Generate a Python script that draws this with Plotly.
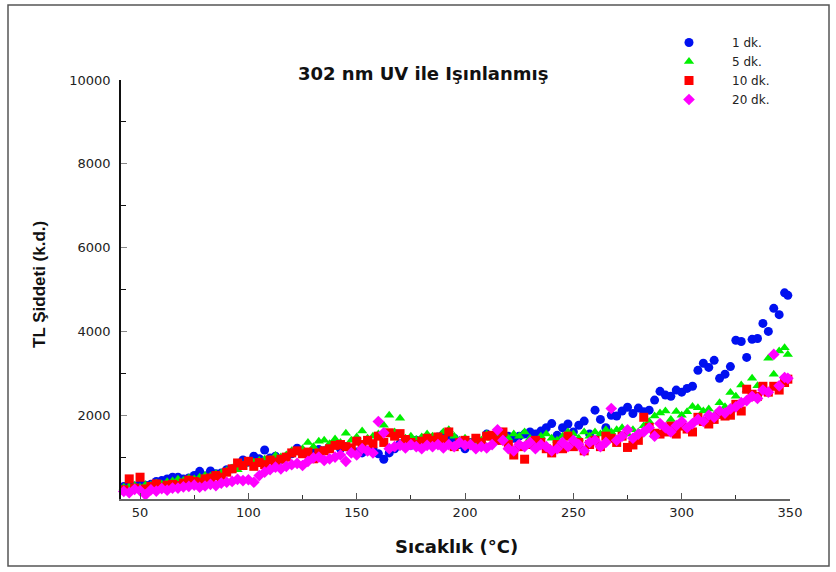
import plotly.graph_objects as go

TEMP = [42.5, 45, 47.5, 50, 52.5, 55, 57.5, 60, 62.5, 65,
        67.5, 70, 72.5, 75, 77.5, 80, 82.5, 85, 87.5, 90,
        92.5, 95, 97.5, 100, 102.5, 105, 107.5, 110, 112.5, 115,
        117.5, 120, 122.5, 125, 127.5, 130, 132.5, 135, 137.5, 140,
        142.5, 145, 147.5, 150, 152.5, 155, 157.5, 160, 162.5, 165,
        167.5, 170, 172.5, 175, 177.5, 180, 182.5, 185, 187.5, 190,
        192.5, 195, 197.5, 200, 202.5, 205, 207.5, 210, 212.5, 215,
        217.5, 220, 222.5, 225, 227.5, 230, 232.5, 235, 237.5, 240,
        242.5, 245, 247.5, 250, 252.5, 255, 257.5, 260, 262.5, 265,
        267.5, 270, 272.5, 275, 277.5, 280, 282.5, 285, 287.5, 290,
        292.5, 295, 297.5, 300, 302.5, 305, 307.5, 310, 312.5, 315,
        317.5, 320, 322.5, 325, 327.5, 330, 332.5, 335, 337.5, 340,
        342.5, 345, 347.5, 349]

DK1 = [300, 340, 310, 360, 330, 350, 420, 440, 480, 520,
       520, 480, 500, 560, 660, 550, 670, 600, 620, 700,
       720, 760, 930, 880, 1020, 960, 1170, 980, 1020, 950,
       1000, 1080, 1210, 1120, 1050, 1100, 1180, 1150, 1250, 1300,
       1200, 1250, 1180, 1120, 1100, 1150, 1200, 1080, 950, 1100,
       1200, 1320, 1300, 1280, 1400, 1350, 1450, 1400, 1480, 1550,
       1400, 1450, 1300, 1200, 1350, 1400, 1300, 1550, 1500, 1400,
       1550, 1500, 1450, 1500, 1550, 1600, 1550, 1620, 1700, 1800,
       1520, 1700, 1790, 1600, 1760, 1860, 1550, 2120, 1900, 1700,
       2000, 1980, 2100, 2190, 2040, 2170, 2080, 2120, 2360, 2570,
       2480, 2450, 2600, 2550, 2640, 2690, 3070, 3240, 3140, 3310,
       2880, 2980, 3160, 3790, 3760, 3380, 3810, 3830, 4190, 4000,
       4550, 4400, 4920, 4860]

DK5 = [280, 300, 320, 280, 340, 330, 380, 360, 410, 430,
       470, 440, 500, 480, 520, 560, 540, 600, 620, 680,
       740, 700, 820, 870, 880, 920, 950, 940, 1040, 1000,
       1050, 1150, 1100, 1200, 1350, 1250, 1380, 1400, 1320, 1430,
       1350, 1570, 1400, 1480, 1620, 1450, 1500, 1550, 1760, 2000,
       1600, 1930, 1450, 1500, 1420, 1480, 1550, 1500, 1450, 1600,
       1650, 1500, 1400, 1450, 1350, 1300, 1400, 1550, 1450, 1500,
       1600, 1450, 1550, 1500, 1600, 1450, 1400, 1500, 1550, 1450,
       1400, 1500, 1600, 1550, 1450, 1600, 1500, 1600, 1550, 1650,
       1600, 1650, 1700, 1550, 1650, 1600, 1750, 1850, 1980, 2050,
       2100, 1900, 2090, 2000, 2080, 2210, 2180, 2100, 2150, 2000,
       2300, 2200, 2540, 2450, 2720, 2600, 2880, 2700, 2650, 3360,
       2980, 3530, 3610, 3450]

DK10 = [220, 480, 260, 520, 240, 300, 360, 280, 330, 350,
        320, 380, 450, 420, 400, 480, 500, 560, 520, 640,
        720, 860, 800, 900, 780, 870, 820, 930, 880, 950,
        1000, 1100, 1150, 1080, 1120, 960, 1100, 1150, 1200, 1280,
        1300, 1250, 1220, 1380, 1300, 1400, 1320, 1500, 1350, 1580,
        1500, 1560, 1420, 1350, 1300, 1380, 1450, 1400, 1480, 1420,
        1600, 1250, 1350, 1400, 1300, 1450, 1350, 1500, 1520, 1400,
        1600, 1300, 1050, 1250, 950, 1300, 1400, 1350, 1200, 1100,
        1300, 1200, 1500, 1250, 1350, 1150, 1300, 1400, 1250, 1500,
        1450, 1350, 1500, 1230, 1290, 1400, 1950, 1710, 1570, 1550,
        1600, 1740, 1550, 1740, 1670, 1600, 1950, 1850, 1790, 1900,
        2020, 1980, 2000, 2260, 2100, 2620, 2500, 2450, 2690, 2550,
        2690, 2600, 2780, 2860]

DK20 = [180, 150, 230, 200, 100, 220, 190, 250, 210, 260,
        260, 290, 300, 330, 280, 310, 350, 320, 380, 400,
        420, 470, 440, 460, 400, 560, 640, 700, 760, 720,
        780, 820, 850, 800, 900, 980, 1000, 920, 960, 1000,
        1050, 900, 1100, 1050, 1200, 1150, 1100, 1850, 1580, 1200,
        1250, 1280, 1220, 1300, 1250, 1200, 1280, 1250, 1300, 1220,
        1300, 1250, 1350, 1280, 1300, 1200, 1250, 1220, 1300, 1650,
        1400, 1200, 1150, 1300, 1250, 1350, 1200, 1300, 1250, 1150,
        1200, 1350, 1250, 1400, 1300, 1150, 1350, 1400, 1250, 1350,
        2160, 1400, 1500, 1650, 1450, 1550, 1600, 1700, 1500, 1800,
        1700, 1600, 1750, 1850, 1700, 1800, 1900, 1850, 2000, 1950,
        2100, 2050, 2150, 2200, 2300, 2350, 2450, 2400, 2600, 2550,
        3450, 2700, 2900, 2880]

NAMES = ["1 dk.", "5 dk.", "10 dk.", "20 dk."]
SERIES = [DK1, DK5, DK10, DK20]
COLORS = ["#0010F0", "#00F000", "#FF0000", "#FF00FF"]
SYMBOLS = ["circle", "triangle-up", "square", "diamond"]
SIZES = [9, 9, 9, 9]

X_TICKS = [50, 100, 150, 200, 250, 300, 350]
Y_TICKS = [2000, 4000, 6000, 8000, 10000]

fig = go.Figure()
for name, vals, col, sym, sz in zip(NAMES, SERIES, COLORS, SYMBOLS, SIZES):
    fig.add_trace(go.Scatter(
        x=TEMP, y=vals, mode="markers", name=name,
        marker=dict(color=col, symbol=sym, size=sz, line=dict(width=0)),
        cliponaxis=False,
    ))

W, H = 836, 572
L, R, T, B = 121, 46, 80, 73
pw, ph = W - L - R, H - T - B

def px_x(p):
    return (p - L) / pw

def px_y(p):
    return (H - B - p) / ph

wide = "DejaVu Sans, Verdana, sans-serif"
narrow = "Liberation Sans, Arial, sans-serif"

fig.update_layout(
    width=W, height=H,
    margin=dict(l=L, r=R, t=T, b=B),
    paper_bgcolor="white", plot_bgcolor="white",
    font=dict(family=wide, color="#222222", size=13),
    showlegend=True,
    legend=dict(
        x=px_x(646), y=px_y(28), xanchor="left", yanchor="top",
        font=dict(size=12, color="#222222", family=wide),
        itemwidth=76, tracegroupgap=0,
        bgcolor="rgba(0,0,0,0)",
    ),
    xaxis=dict(
        range=[41.2, 350], tickvals=X_TICKS, ticktext=[str(v) for v in X_TICKS],
        ticks="inside", ticklen=6, tickcolor="#555555", tickwidth=1,
        showline=True, linecolor="#666666", linewidth=2,
        showgrid=False, zeroline=False,
        minor=dict(ticks="inside", dtick=25, tick0=0, ticklen=4, tickcolor="#333333"),
        tickfont=dict(size=13, color="#222222", family=wide),
    ),
    yaxis=dict(
        range=[0, 10000], tickvals=Y_TICKS, ticktext=[str(v) for v in Y_TICKS],
        ticks="inside", ticklen=6, tickcolor="#888888", tickwidth=1,
        showline=True, linecolor="#111111", linewidth=1.5,
        showgrid=False, zeroline=False,
        minor=dict(ticks="inside", dtick=1000, tick0=0, ticklen=5, tickcolor="#111111"),
        tickfont=dict(size=13, color="#222222", family=wide),
        ticklabelstandoff=6,
    ),
    annotations=[
        dict(text="<b>302 nm UV ile Işınlanmış</b>", x=px_x(423), y=px_y(73),
             xref="paper", yref="paper", showarrow=False,
             font=dict(size=18, color="#111111", family=wide),
             xanchor="center", yanchor="middle"),
        dict(text="<b>TL Şiddeti (k.d.)</b>", x=px_x(39), y=px_y(285),
             xref="paper", yref="paper", showarrow=False, textangle=-90,
             font=dict(size=17, color="#111111", family=narrow),
             xanchor="center", yanchor="middle"),
        dict(text="<b>Sıcaklık (°C)</b>", x=px_x(456), y=px_y(546),
             xref="paper", yref="paper", showarrow=False,
             font=dict(size=18, color="#111111", family=wide),
             xanchor="center", yanchor="middle"),
    ],
    shapes=[
        dict(type="rect", xref="paper", yref="paper",
             x0=px_x(8), x1=px_x(829), y0=px_y(566), y1=px_y(5),
             line=dict(color="#555555", width=1.5), fillcolor="rgba(0,0,0,0)"),
    ],
)

fig.write_html("out.html")
